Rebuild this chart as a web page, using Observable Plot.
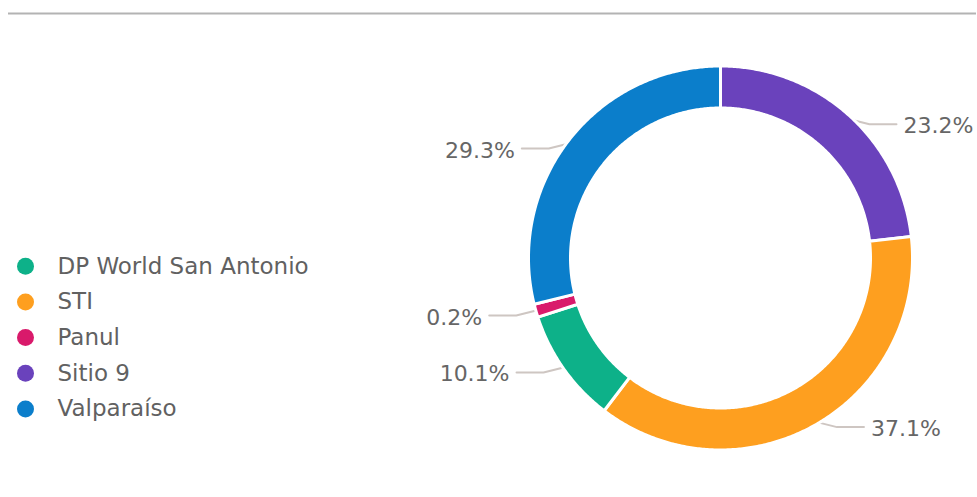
<!DOCTYPE html>
<html><head><meta charset="utf-8">
<script src="https://cdn.jsdelivr.net/npm/d3@7"></script>
<script src="https://cdn.jsdelivr.net/npm/@observablehq/plot@0.6"></script>
<style>body{margin:0;background:#fff}</style>
</head><body><div id="chart"></div>
<script>
// ---- data ----
const terminals = ["DP World San Antonio", "STI", "Panul", "Sitio 9", "Valparaíso"];
const shares = [10.1, 37.1, 0.2, 23.2, 29.3];
const shareLabels = ["10.1%", "37.1%", "0.2%", "23.2%", "29.3%"];
const colors = ["#0DB189", "#FE9F1F", "#D91A6B", "#6A42BC", "#0B7ECB"];
const sliceOrder = ["Sitio 9", "STI", "DP World San Antonio", "Panul", "Valparaíso"];

// ---- layout ----
const W = 977, H = 497;
const cx = 720, cy = 257.5, R = 190.5, R0 = 151.5, gap = 3, minAngle = 4;
const font = "DejaVu Sans";

const total = d3.sum(shares);
let acc = 0;
const slices = sliceOrder.map(name => {
  const i = terminals.indexOf(name);
  const a0 = acc / total * 360; acc += shares[i];
  const a1 = acc / total * 360;
  return {name, value: shares[i], label: shareLabels[i], a0, a1};
});
slices.forEach((s, k) => {
  if (s.a1 - s.a0 < minAngle) {
    const m = (s.a0 + s.a1) / 2;
    s.a0 = m - minAngle / 2; s.a1 = m + minAngle / 2;
    if (k > 0) slices[k - 1].a1 = s.a0;
    if (k < slices.length - 1) slices[k + 1].a0 = s.a1;
  }
});
const rad = a => a * Math.PI / 180;
const pt = (a, rr) => [cx + rr * Math.sin(rad(a)), cy - rr * Math.cos(rad(a))];

const ringPts = slices.flatMap(s => {
  const n = Math.max(2, Math.ceil((s.a1 - s.a0) / 0.5));
  const pts = [];
  for (let j = 0; j <= n; j++) { const [x, y] = pt(s.a0 + (s.a1 - s.a0) * j / n, R + gap / 2); pts.push({name: s.name, x, y}); }
  for (let j = n; j >= 0; j--) { const [x, y] = pt(s.a0 + (s.a1 - s.a0) * j / n, R0 - gap / 2); pts.push({name: s.name, x, y}); }
  return pts;
});

const leader = [], labelPts = [];
slices.forEach(s => {
  const m = (s.a0 + s.a1) / 2;
  const side = Math.sin(rad(m)) >= 0 ? 1 : -1;
  const [x0, y0] = pt(m, R - 3);
  const [x1, y1] = [x0 + side * 24, y0 + 6];
  const [x2, y2] = [x1 + side * 27, y1];
  leader.push({name: s.name, x: x0, y: y0}, {name: s.name, x: x1, y: y1}, {name: s.name, x: x2, y: y2});
  labelPts.push({name: s.name, label: s.label, side, x: x2 + side * 7, y: y2 + 2});
});

const legend = terminals.map((n, i) => ({n, i}));

const chart = Plot.plot({
  width: W, height: H,
  margin: 0,
  x: {domain: [0, W], range: [0, W], axis: null},
  y: {domain: [0, H], range: [0, H], axis: null},
  color: {domain: terminals, range: colors},
  style: {fontFamily: font, background: "#fff"},
  marks: [
    Plot.ruleY([13], {y: d => d, x1: () => 8, x2: () => 976, stroke: "#b3b3b3", strokeWidth: 2}),
    Plot.line(leader, {x: "x", y: "y", z: "name", stroke: "#CEC6C2", strokeWidth: 2}),
    Plot.line(ringPts, {x: "x", y: "y", z: "name", fill: "name", stroke: "white", strokeWidth: gap, curve: "linear-closed"}),
    Plot.text(labelPts.filter(d => d.side > 0), {x: "x", y: "y", text: "label", textAnchor: "start", fontSize: 22, fill: "#666666"}),
    Plot.text(labelPts.filter(d => d.side < 0), {x: "x", y: "y", text: "label", textAnchor: "end", fontSize: 22, fill: "#666666"}),
    Plot.dot(legend, {x: () => 25, y: d => 265.7 + d.i * 35.7, r: 8.5, fill: "n"}),
    Plot.text(legend, {x: () => 57, y: d => 265.7 + d.i * 35.7, text: "n", textAnchor: "start", fontSize: 23, fill: "#616161"})
  ]
});
document.getElementById("chart").append(chart);
</script>
</body></html>
